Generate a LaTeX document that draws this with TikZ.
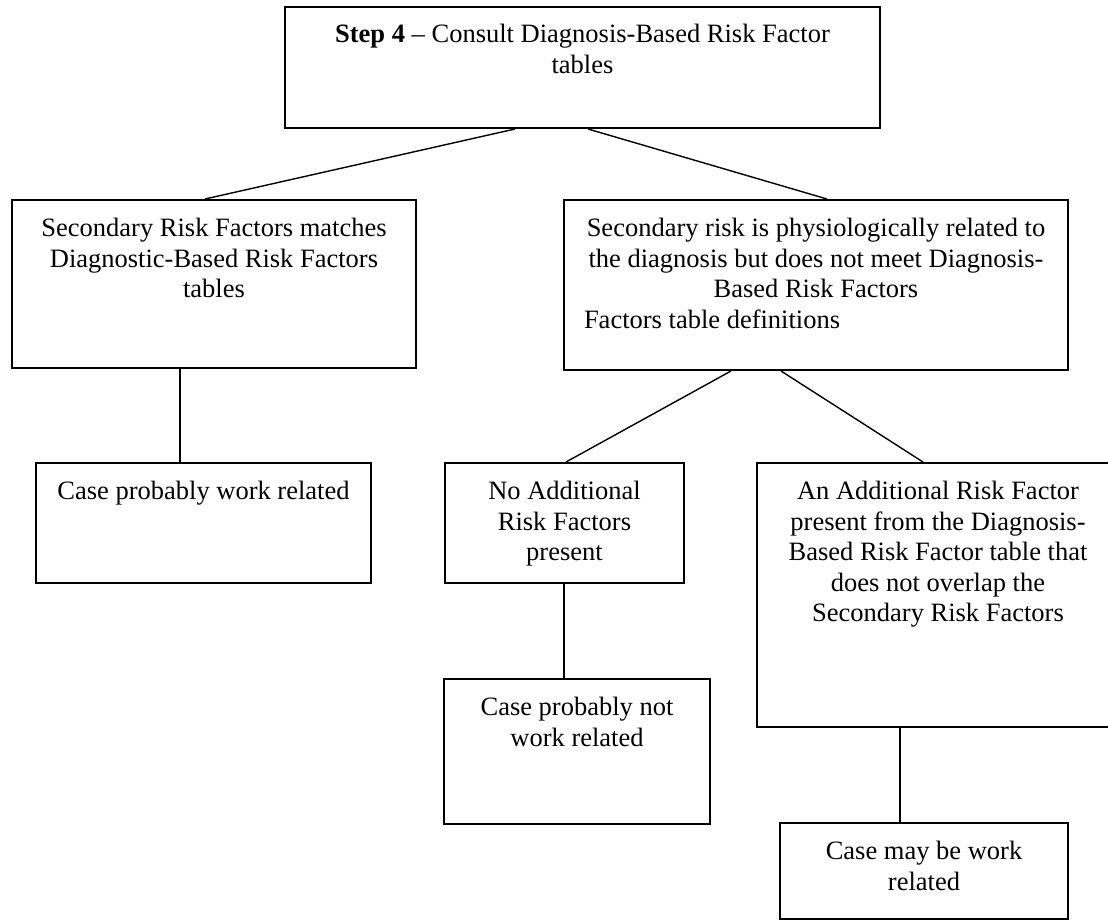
\documentclass[tikz,border=0pt]{standalone}
\usepackage{fontspec}
\setmainfont{Liberation Serif}
\usetikzlibrary{positioning}

\begin{document}
\begin{tikzpicture}[x=0.5pt, y=-0.5pt,
    box/.style={draw, line width=1pt, inner sep=0pt},
    txt/.style={font=\fontsize{13.25}{15.25}\selectfont, align=center, inner sep=0pt},
    link/.style={line width=0.7pt}]

    % =================================================================
    % 1. KHUNG TRANG (don vi: pixel cua hinh goc)
    % =================================================================
    \useasboundingbox (0,0) rectangle (1108,920);

    % =================================================================
    % 2. CAC HOP (ve khung truoc, chu dat o mep tren)
    % =================================================================
    % Hop buoc 4 (tren cung)
    \node[box, minimum width=297.5pt, minimum height=60.5pt] (step) at (582.5,67.5) {};
    % Hai nhanh tang 2
    \node[box, minimum width=202pt, minimum height=84pt] (match) at (214,284) {};
    \node[box, minimum width=252pt, minimum height=85pt] (physio) at (816,285) {};
    % Tang 3 (hop phai bi cat o mep hinh)
    \node[box, minimum width=167.5pt, minimum height=60pt] (workrel) at (203.5,523) {};
    \node[box, minimum width=119.5pt, minimum height=60pt] (noadd) at (564.5,523) {};
    \node[box, minimum width=181pt, minimum height=132pt] (anadd) at (938,595) {};
    % Tang 4
    \node[box, minimum width=133pt, minimum height=72.5pt] (notrel) at (577,751.5) {};
    \node[box, minimum width=144pt, minimum height=48pt] (mayrel) at (924,871) {};

    % =================================================================
    % 3. NOI DUNG CHU TRONG CAC HOP
    % =================================================================
    \node[txt, below=9pt of step.north] (stepT)
        {\textbf{Step 4} -- Consult Diagnosis-Based Risk Factor\\tables};
    \node[txt, below=9.5pt of match.north] (matchT)
        {Secondary Risk Factors matches\\Diagnostic-Based Risk Factors\\tables};
    % dong cuoi canh trai
    \node[txt, below=9.5pt of physio.north] (physioT)
        {Secondary risk is physiologically related to\\
         the diagnosis but does not meet Diagnosis-\\
         Based Risk Factors\\
         \makebox[232pt][l]{Factors table definitions}};
    \node[txt, below=9.5pt of workrel.north] (workrelT) {Case probably work related};
    \node[txt, below=9.5pt of noadd.north] (noaddT) {No Additional\\Risk Factors\\present};
    \node[txt, below=9.5pt of anadd.north] (anaddT)
        {An Additional Risk Factor\\present from the Diagnosis-\\Based Risk Factor table that\\
         does not overlap the\\Secondary Risk Factors};
    \node[txt, below=9.5pt of notrel.north] (notrelT) {Case probably not\\work related};
    \node[txt, below=9.5pt of mayrel.north] (mayrelT) {Case may be work\\related};

    % =================================================================
    % 4. CAC DOAN NOI
    % =================================================================
    \draw[link] ([xshift=-33.75pt]step.south) -- ([xshift=-4.5pt]match.north);
    \draw[link] ([xshift=2.75pt]step.south) -- ([xshift=5.5pt]physio.north);
    \draw[link] ([xshift=-17pt]match.south) -- ([xshift=-11.75pt]workrel.north);
    \draw[link] ([xshift=-42.5pt]physio.south) -- ([xshift=0.75pt]noadd.north);
    \draw[link] ([xshift=-17.5pt]physio.south) -- ([xshift=-7.5pt]anadd.north);
    \draw[link] ([xshift=-0.25pt]noadd.south) -- ([xshift=-6.5pt]notrel.north);
    \draw[link] ([xshift=-19pt]anadd.south) -- ([xshift=-12pt]mayrel.north);

\end{tikzpicture}
\end{document}
